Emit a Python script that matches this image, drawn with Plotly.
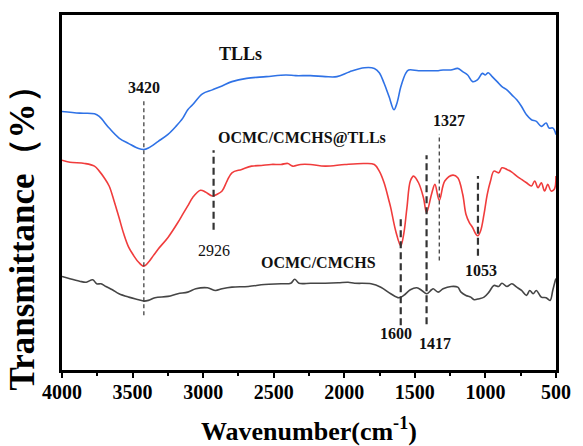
import plotly.graph_objects as go

# ---- data (wavenumber cm^-1, transmittance in arbitrary units) ----
tlls_wn = [4000, 3875, 3770, 3736, 3666, 3596, 3527, 3457, 3420, 3388, 3318, 3249, 3193, 3144, 3109,
           3075, 3005, 2935, 2866, 2796, 2692, 2553, 2414, 2344, 2240, 2135, 2052, 1961, 1857, 1787,
           1752, 1718, 1683, 1648, 1627, 1599, 1565, 1544, 1474, 1405, 1335, 1300, 1245, 1196, 1161,
           1126, 1091, 1057, 1022, 1001, 980, 952, 917, 883, 848, 813, 778, 744, 709, 674, 639, 604,
           570, 549, 521, 500]
tlls_t = [260, 258.3, 257.7, 255, 243.3, 233.3, 227.7, 222.7, 221.7, 223.3, 230, 237, 245, 253.3, 261.7,
          266.7, 277.7, 281.7, 285.7, 290, 293.3, 295, 296.7, 296, 296, 295, 295, 300, 304, 303.3,
          299, 288.3, 275, 261.7, 268.3, 285, 298.3, 301.7, 301, 301, 301, 301.7, 301.7, 303.3, 300,
          296.7, 290, 291.7, 298.3, 296.7, 299, 295, 290, 285, 281.7, 276.7, 271.7, 265, 256.7, 251.7, 250, 245,
          248.3, 243.3, 243.3, 236.7]

comp_wn = [4000, 3944, 3840, 3770, 3736, 3701, 3666, 3631, 3596, 3562, 3527, 3492, 3457, 3420, 3388,
           3353, 3318, 3249, 3179, 3144, 3109, 3075, 3019, 2984, 2935, 2901, 2866, 2831, 2796, 2727,
           2657, 2587, 2518, 2448, 2400, 2365, 2309, 2240, 2135, 1996, 1857, 1787, 1752, 1718, 1683,
           1671, 1636, 1600, 1579, 1556, 1532, 1509, 1474, 1439, 1417, 1382, 1358, 1327, 1288, 1231,
           1196, 1161, 1138, 1114, 1091, 1068, 1053, 1034, 1010, 987, 964, 940, 906, 883, 848, 813,
           778, 744, 709, 674, 651, 627, 604, 581, 558, 535, 512, 500]
comp_t = [211, 209, 207.7, 205, 200, 193.3, 185, 170, 153.3, 136.7, 123.3, 115, 108.3, 104.3, 108.3,
          115, 121.7, 133.3, 148.3, 156.7, 165, 173.3, 180.7, 179, 175, 176.7, 180, 190, 198.3, 201.7,
          205, 205.7, 206.7, 206.7, 207.7, 205, 206.7, 206.7, 205, 206.7, 207.7, 206.7, 200, 188.3, 170,
          163.3, 140, 125, 136.7, 163.3, 190, 195, 188.3, 173.3, 158.3, 176.7, 186.7, 170.7, 190, 196,
          193.3, 176.7, 156.7, 148.3, 143.3, 136.7, 135, 140, 156.7, 176.7, 190, 200, 198.3, 203.3, 201.7, 199,
          195, 191.7, 188.3, 185, 190, 183.3, 188.3, 180, 186.7, 180, 181.7, 195]

base_wn = [4000, 3944, 3875, 3828, 3782, 3754, 3724, 3689, 3643, 3596, 3527, 3457, 3420, 3388, 3341,
           3249, 3179, 3109, 3052, 2970, 2912, 2866, 2796, 2680, 2565, 2448, 2379, 2351, 2321, 2240,
           2135, 2043, 1973, 1926, 1810, 1741, 1671, 1613, 1579, 1532, 1486, 1451, 1416, 1382, 1370,
           1335, 1300, 1242, 1196, 1173, 1138, 1104, 1080, 1045, 1010, 975, 940, 906, 883, 848, 813,
           778, 744, 709, 686, 662, 639, 604, 570, 542, 523, 505, 500]
base_t = [94, 91.7, 89.3, 88.3, 90.7, 86.7, 86.7, 84, 80.7, 76.7, 73.3, 70.7, 69.3, 70, 72.7,
          74, 76.7, 78.3, 81.7, 82.7, 80, 81.7, 83.3, 84, 86, 86.7, 87.3, 91.3, 87.3, 87.3,
          87.3, 87.7, 88.3, 87.3, 86.7, 83.3, 76.7, 72.7, 75, 80.7, 82.7, 80, 76.7, 80.7, 81.7,
          78.3, 81.7, 84, 83.3, 78.3, 75, 73.3, 70.7, 71.7, 73.3, 78.3, 85, 84, 87.3, 84, 86.7,
          83.3, 80, 75, 80, 76.7, 80, 73.3, 72.7, 70, 80, 90, 92]

# peak markers: wavenumber, top, bottom, thick?
peak_wn = [3420, 2926, 1600, 1417, 1327, 1053]
peak_top = [273, 221, 155, 216, 237, 195]
peak_bot = [55, 141, 45, 46, 110, 115]
peak_thick = [False, True, True, True, False, True]
peak_label = ["3420", "2926", "1600", "1417", "1327", "1053"]
label_wn = [3420, 2920, 1631, 1358, 1255, 1029]
label_t = [284, 120, 37, 27, 251, 100]
label_bold = [True, False, True, True, True, True]

series_names = ["TLLs", "OCMC/CMCHS@TLLs", "OCMC/CMCHS"]
name_wn = [2734, 2302, 2184]
name_t = [318, 233, 108]
name_size = [18, 16, 16]

x_ticks = [4000, 3500, 3000, 2500, 2000, 1500, 1000, 500]

FONT = "Liberation Serif"

fig = go.Figure()
fig.add_trace(go.Scatter(x=tlls_wn, y=tlls_t, mode="lines", line=dict(color="#2f72e6", width=1.6),
                         line_shape="spline", showlegend=False))
fig.add_trace(go.Scatter(x=comp_wn, y=comp_t, mode="lines", line=dict(color="#f03c3c", width=1.6),
                         line_shape="spline", showlegend=False))
fig.add_trace(go.Scatter(x=base_wn, y=base_t, mode="lines", line=dict(color="#454545", width=1.6),
                         line_shape="spline", showlegend=False))

for wn, top, bot, thick in zip(peak_wn, peak_top, peak_bot, peak_thick):
    fig.add_trace(go.Scatter(x=[wn, wn], y=[bot, top], mode="lines", showlegend=False,
                             line=dict(color="#333333", width=2.2 if thick else 1.2,
                                       dash="7px,4px" if thick else "4px,3px")))

annotations = []
for lab, wn, t, b in zip(peak_label, label_wn, label_t, label_bold):
    annotations.append(dict(x=wn, y=t, xref="x", yref="y", text=lab, showarrow=False,
                            xanchor="center", yanchor="middle",
                            font=dict(family=FONT, size=16, color="#111111",
                                      weight="bold" if b else "normal")))
for nm, wn, t, s in zip(series_names, name_wn, name_t, name_size):
    annotations.append(dict(x=wn, y=t, xref="x", yref="y", text=nm, showarrow=False,
                            xanchor="center", yanchor="middle",
                            font=dict(family=FONT, size=s, color="#111111", weight="bold")))

annotations.append(dict(x=0.5, y=-0.168, xref="paper", yref="paper", text="Wavenumber(cm<sup>-1</sup>)",
                        xanchor="center", yanchor="middle",
                        showarrow=False, font=dict(family=FONT, size=26, color="#000000", weight="bold")))
annotations.append(dict(x=-0.0795, y=0.395, xref="paper", yref="paper", text="Transmittance（%）",
                        xanchor="center", yanchor="middle",
                        textangle=-90, showarrow=False,
                        font=dict(family=FONT, size=35, color="#000000", weight="bold")))

fig.update_layout(
    width=583, height=446,
    margin=dict(l=62, r=18, t=13, b=76),
    paper_bgcolor="white", plot_bgcolor="white",
    annotations=annotations,
    xaxis=dict(range=[4000, 500], tickvals=x_ticks, ticks="outside", ticklen=5, tickwidth=2,
               tickcolor="black", showline=True, linewidth=2.5, linecolor="black", mirror=True,
               showgrid=False, zeroline=False, ticklabelstandoff=-3,
               tickfont=dict(family=FONT, size=20, color="black", weight="bold"),
               minor=dict(ticks="outside", ticklen=3, tickwidth=2, dtick=250, tickcolor="black")),
    yaxis=dict(range=[0, 357], showticklabels=False, ticks="", showline=True, linewidth=2.5,
               linecolor="black", mirror=True, showgrid=False, zeroline=False),
)

fig.write_html("out.html")
